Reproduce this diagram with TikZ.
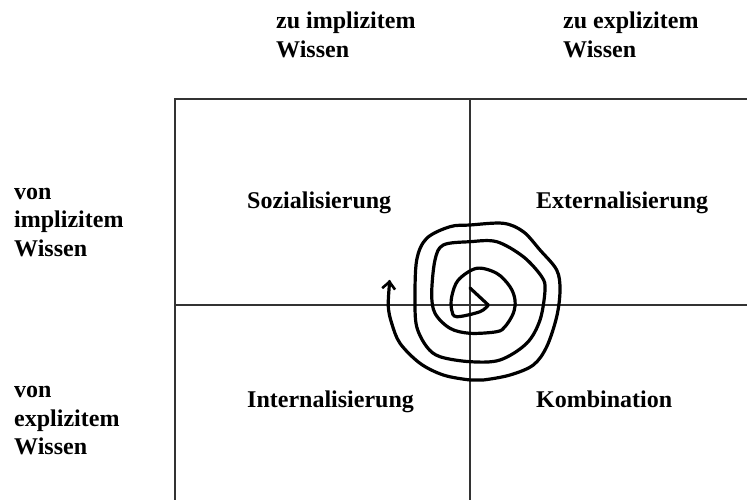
\documentclass[tikz,border=0pt]{standalone}
\usepackage{fontspec}
\setmainfont{Liberation Serif}
\usetikzlibrary{arrows.meta}
\begin{document}
\begin{tikzpicture}[x=1pt,y=-1pt,
  lbl/.style={anchor=base west,inner sep=0pt,align=left,font=\fontsize{24}{28.5}\selectfont\bfseries},
  gridline/.style={line width=1.5pt,draw=black!80},
  spiral/.style={line width=3.2pt,line cap=round,line join=round,-{Straight Barb[length=7pt,width=13pt,line width=2.6pt]}}]
\useasboundingbox (0,0) rectangle (747,500);
% grid
\coordinate (tl) at (175,99);
\coordinate (tr) at (747,99);
\coordinate (bl) at (175,500);
\coordinate (tm) at (470,99);
\coordinate (bm) at (470,500);
\coordinate (ml) at (175,305);
\coordinate (mr) at (747,305);
\draw[gridline] (bl) -- (tl) -- (tr);
\draw[gridline] (tm) -- (bm);
\draw[gridline] (ml) -- (mr);
% column headers (anchor = baseline of last line)
\node[lbl] (h1) at (276,57.5) {zu implizitem\\Wissen};
\node[lbl] (h2) at (563,57.5) {zu explizitem\\Wissen};
% row headers
\node[lbl] (r1) at (14,256) {von\\implizitem\\Wissen};
\node[lbl] (r2) at (14,454.5) {von\\explizitem\\Wissen};
% quadrants
\node[lbl] (q1) at (247,208) {Sozialisierung};
\node[lbl] (q2) at (536,208) {Externalisierung};
\node[lbl] (q3) at (247,407) {Internalisierung};
\node[lbl] (q4) at (536,407) {Kombination};
% spiral
\draw[spiral] (470,288) -- (488.3,305) plot[smooth,tension=0.55] coordinates {
(488.3,305)(480,311.7)(456.7,316.7)(451.7,310)(451.7,296.7)(458.3,280)(476.7,268.3)(496.7,273.3)(510,286.7)(515,300)(513.3,313.3)(505,326.7)(496.7,331.7)(470,333.3)(450,328.3)(435,313.3)(431.7,293.3)(435,260)(443.3,245)(470,241.7)(496.7,241.7)(523.3,256.7)(541.7,276.7)(545,290)(540,320)(526.7,343.3)(500,360)(470,361.7)(440,356.7)(426.7,346.7)(416.7,326.7)(415,300)(416.7,260)(426.7,238.3)(450,226.7)(470,225)(503.3,223.3)(523.3,231.7)(540,250)(556.7,270)(560,290)(556.7,316.7)(546.7,346.7)(533.3,365)(510,375)(483.3,380)(470,380)(443.3,375)(420,363.3)(400,343.3)(391.7,323.3)(388.3,306.7)(389.3,285)(389.6,280)};
\end{tikzpicture}
\end{document}
